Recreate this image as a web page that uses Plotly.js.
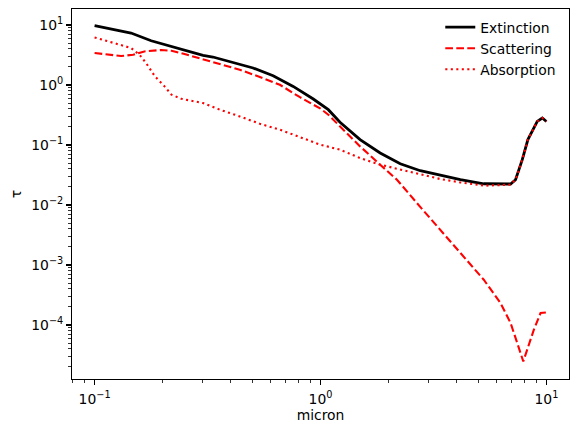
<!DOCTYPE html>
<html>
<head>
<meta charset="utf-8">
<script src="https://cdn.plot.ly/plotly-3.0.1.min.js"></script>
<style>
  html, body { margin: 0; padding: 0; background: #fff; }
  #chart { width: 578px; height: 435px; }
</style>
</head>
<body>
<div id="chart"></div>
<script>
// Optical depth spectra: extinction, scattering and absorption vs wavelength (micron)
const wlExt = [0.1, 0.145, 0.178, 0.219, 0.25, 0.302, 0.334, 0.41, 0.503, 0.617, 0.757, 0.929,
  1.083, 1.22, 1.497, 1.837, 2.254, 2.765, 3.39, 4.16, 5.28, 6.94, 7.30, 7.82, 8.28, 9.11, 9.59, 10.0];
const tauExt = [9.73, 7.36, 5.47, 4.40, 3.78, 3.11, 2.93, 2.38, 1.92, 1.43, 0.948, 0.585,
  0.388, 0.240, 0.123, 0.0736, 0.0488, 0.0373, 0.0314, 0.0264, 0.0226, 0.0224, 0.0264, 0.057, 0.123, 0.247, 0.282, 0.247];

const wlSca = [0.1, 0.131, 0.148, 0.166, 0.197, 0.219, 0.25, 0.302, 0.358, 0.439, 0.539, 0.661, 0.811,
  1.0, 1.083, 1.22, 1.497, 1.837, 2.18, 2.67, 3.39, 4.30, 5.28, 6.26, 6.94, 7.43, 7.90, 8.80, 9.42, 10.0];
const tauSca = [3.41, 3.04, 3.20, 3.63, 3.83, 3.73, 3.29, 2.71, 2.26, 1.80, 1.36, 1.01, 0.626,
  0.403, 0.32, 0.204, 0.0948, 0.047, 0.0264, 0.0108, 0.00389, 0.00139, 5.69e-4, 2.33e-4, 1.08e-4, 5.0e-5, 2.47e-5, 8.35e-5, 1.58e-4, 1.62e-4];

const wlAbs = [0.1, 0.127, 0.145, 0.158, 0.169, 0.185, 0.204, 0.219, 0.242, 0.302, 0.358, 0.439, 0.539,
  0.661, 0.811, 1.0, 1.22, 1.497, 1.837, 2.254, 2.765, 3.39, 4.16, 5.28, 6.94, 7.30, 7.82, 8.28, 9.11, 9.59, 10.0];
const tauAbs = [6.2, 4.82, 4.14, 3.2, 2.33, 1.39, 0.95, 0.69, 0.59, 0.50, 0.388, 0.30, 0.226,
  0.18, 0.136, 0.101, 0.0835, 0.0607, 0.047, 0.0388, 0.032, 0.0271, 0.0238, 0.021, 0.0218, 0.0264, 0.057, 0.123, 0.247, 0.282, 0.247];

// axis tick labels
const xTickVals = [0.1, 1, 10];
const xTickText = ['10<sup>\u22121</sup>', '10<sup>0</sup>', '10<sup>1</sup>'];
const yTickVals = [1e-4, 1e-3, 1e-2, 1e-1, 1, 10];
const yTickText = ['10<sup>\u22124</sup>', '10<sup>\u22123</sup>', '10<sup>\u22122</sup>',
  '10<sup>\u22121</sup>', '10<sup>0</sup>', '10<sup>1</sup>'];

// minor ticks at 2..9 of each decade
function minorTicks(lo, hi) {
  const out = [];
  for (let e = lo; e <= hi; e++) {
    for (let m = 2; m <= 9; m++) out.push(m * Math.pow(10, e));
  }
  return out;
}

const FONT = 'DejaVu Sans, sans-serif';
const FS = 13.9;

const traces = [
  { x: wlExt, y: tauExt, name: 'Extinction', mode: 'lines',
    line: { color: '#000000', width: 2.8 } },
  { x: wlSca, y: tauSca, name: 'Scattering', mode: 'lines',
    line: { color: '#ff0000', width: 2.1, dash: '7.7px,3.3px' } },
  { x: wlAbs, y: tauAbs, name: 'Absorption', mode: 'lines',
    line: { color: '#ff0000', width: 2.1, dash: '2.1px,3.4px' } }
];

const axisCommon = {
  type: 'log',
  showgrid: false,
  zeroline: false,
  showline: true,
  mirror: true,
  linecolor: '#000',
  linewidth: 1.1,
  ticks: 'outside',
  ticklen: 4.9,
  tickwidth: 1.1,
  tickcolor: '#000',
  tickmode: 'array',
  tickfont: { family: FONT, size: FS, color: '#000' }
};

const layout = {
  width: 578,
  height: 435,
  margin: { l: 72.3, r: 9.3, t: 9.3, b: 55.7, pad: 0 },
  paper_bgcolor: '#fff',
  plot_bgcolor: '#fff',
  font: { family: FONT, size: FS, color: '#000' },
  showlegend: true,
  legend: {
    x: 0.741, xanchor: 'left', y: 0.993, yanchor: 'top',
    bgcolor: 'rgba(0,0,0,0)', borderwidth: 0,
    font: { family: FONT, size: FS, color: '#000' }
  },
  xaxis: Object.assign({}, axisCommon, {
    range: [-1.1, 1.1],
    tickvals: xTickVals, ticktext: xTickText,
    ticklabelstandoff: 2,
    minor: { ticks: 'outside', ticklen: 2.8, tickwidth: 0.8, tickcolor: '#000',
             tickmode: 'array', tickvals: minorTicks(-2, 1), showgrid: false },
    title: { text: 'micron', font: { family: FONT, size: FS, color: '#000' }, standoff: 4 }
  }),
  yaxis: Object.assign({}, axisCommon, {
    range: [-4.9, 1.267],
    tickvals: yTickVals, ticktext: yTickText,
    minor: { ticks: 'outside', ticklen: 2.8, tickwidth: 0.8, tickcolor: '#000',
             tickmode: 'array', tickvals: minorTicks(-5, 1), showgrid: false },
    title: { text: '\u03c4', font: { family: FONT, size: FS, color: '#000' }, standoff: 6 }
  })
};

Plotly.newPlot('chart', traces, layout, { staticPlot: true, displayModeBar: false });
</script>
</body>
</html>
